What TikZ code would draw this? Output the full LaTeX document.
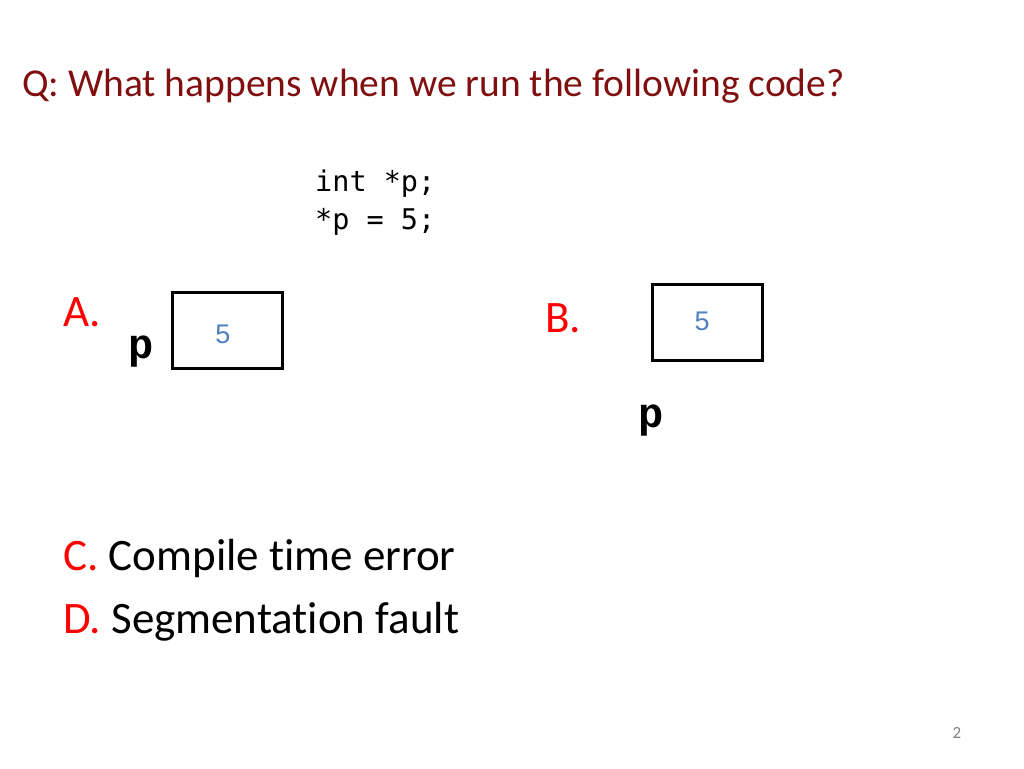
\documentclass[tikz,border=0pt]{standalone}
\usepackage{fontspec}
\setmainfont[Ligatures=NoCommon]{Carlito}
\newfontfamily\codefont{DejaVu Sans Mono}
\newfontfamily\pfont{Liberation Mono}
\newfontfamily\numfont{Liberation Sans}
\definecolor{titlered}{RGB}{128,16,16}
\definecolor{numblue}{RGB}{79,129,189}
\begin{document}
\begin{tikzpicture}[x=1pt,y=-1pt,
  lbl/.style={anchor=west,inner sep=0pt,font=\fontsize{45}{52}\selectfont},
  cell/.style={draw,line width=3pt,minimum width=110pt,minimum height=76pt,inner sep=0pt},
  num/.style={text=numblue,font=\numfont\fontsize{27}{30}\selectfont,inner sep=0pt},
  pv/.style={font=\pfont\bfseries\fontsize{42}{48}\selectfont,inner sep=0pt}]
\useasboundingbox (0,0) rectangle (1024,768);
\node[lbl,text=titlered,font=\fontsize{39.5}{46}\selectfont] (title) at (22,86) {Q: What happens when we run the following code?};
\node[anchor=west,inner sep=0pt,font=\codefont\fontsize{28.5}{32}\selectfont] (c1) at (315,184) {int *p;};
\node[anchor=west,inner sep=0pt,font=\codefont\fontsize{28.5}{32}\selectfont] (c2) at (315,222) {*p = 5;};
\node[lbl,text=red] (A) at (63,312) {A.};
\node[cell] (boxA) at (227,330) {};
\node[num] (nA) at (223,334) {5};
\node[pv] (pA) at (141,352) {p};
\node[lbl,text=red] (B) at (545,318) {B.};
\node[cell] (boxB) at (707,322) {};
\node[num] (nB) at (702,321) {5};
\node[pv] (pB) at (651,421) {p};
\node[lbl] (C) at (63,558) {\textcolor{red}{C.} Compile time error};
\node[lbl] (D) at (63,622) {\textcolor{red}{D.} Segmentation fault};
\node[text=gray,font=\fontsize{17}{20}\selectfont,inner sep=0pt] (pg) at (957,733) {2};
\end{tikzpicture}
\end{document}
